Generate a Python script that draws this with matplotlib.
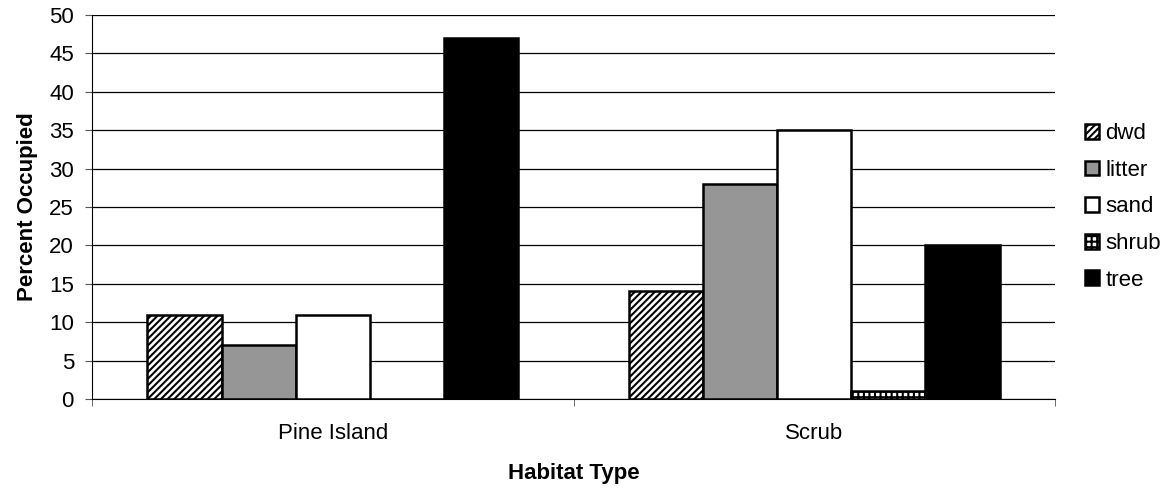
import matplotlib.pyplot as plt
import numpy as np

plt.rcParams['font.family'] = ['Liberation Sans', 'DejaVu Sans']
plt.rcParams['hatch.linewidth'] = 1.5

habitats = ["Pine Island", "Scrub"]
series = ["dwd", "litter", "sand", "shrub", "tree"]
dwd = [11, 14]
litter = [7, 28]
sand = [11, 35]
shrub = [0, 1]
tree = [47, 20]

values = [dwd, litter, sand, shrub, tree]
faces = ["white", "#969696", "white", "white", "black"]
hatches = ["/////", None, None, "+++", None]

fig = plt.figure(figsize=(11.72, 4.93), dpi=100)
ax = fig.add_axes([92 / 1172, 1 - 399 / 493, (1055 - 92) / 1172, (399 - 15) / 493])

x = np.arange(len(habitats))
width = 0.77 / len(series)
for i, (name, vals) in enumerate(zip(series, values)):
    pos = x - 0.385 + width * (i + 0.5)
    ax.bar(pos, vals, width, facecolor=faces[i], edgecolor="black",
           hatch=hatches[i], linewidth=1.8, label=name, zorder=3)

ax.set_xlim(-0.5, 1.5)
ax.set_ylim(0, 50)
ax.set_yticks(range(0, 51, 5))
ax.yaxis.grid(True, color="black", linewidth=0.9, zorder=0)
ax.set_xticks(x)
ax.set_xticklabels(habitats)
ax.set_xticks([-0.5, 0.5, 1.5], minor=True)
ax.tick_params(axis="x", which="major", length=0, pad=17, labelsize=16)
ax.tick_params(axis="x", which="minor", length=5, color="#555555")
ax.tick_params(axis="y", length=5, pad=8, labelsize=16, color="#555555")
for s in ["top", "right"]:
    ax.spines[s].set_visible(False)
ax.spines["left"].set_color("black")
ax.spines["bottom"].set_color("black")

ax.set_ylabel("Percent Occupied", fontsize=16, fontweight="bold", labelpad=8)
ax.set_xlabel("Habitat Type", fontsize=16, fontweight="bold", labelpad=14)

leg = ax.legend(loc="center left", bbox_to_anchor=(1.01, 0.5), frameon=False,
                fontsize=16, handlelength=0.64, handleheight=0.64,
                handletextpad=0.3, labelspacing=0.7)

plt.savefig("out.png", dpi=100)
plt.close()
